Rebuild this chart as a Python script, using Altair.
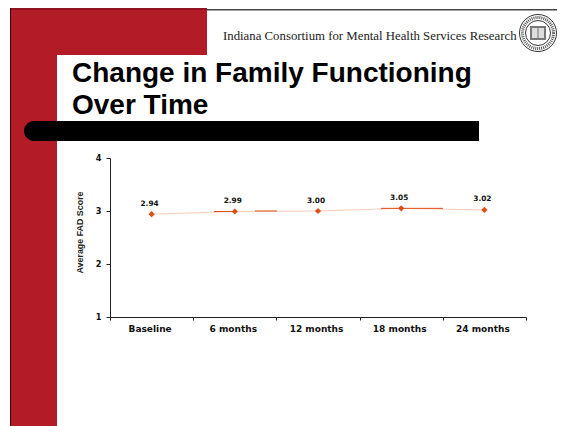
import altair as alt
import pandas as pd

categories = ["Baseline", "6 months", "12 months", "18 months", "24 months"]
scores = [2.94, 2.99, 3.00, 3.05, 3.02]
labels = ["2.94", "2.99", "3.00", "3.05", "3.02"]
y_ticks = [1, 2, 3, 4]
title_lines = ["Change in Family Functioning", "Over Time"]
header = "Indiana Consortium for Mental Health Services Research"
y_title = "Average FAD Score"

df = pd.DataFrame({"cat": categories, "score": scores, "label": labels})
blank = alt.Data(values=[{}])

# Page pixel to plot-area pixel
PLOT_X, PLOT_Y = 110, 158
def px(v):
    return v - PLOT_X
def py(v):
    return v - PLOT_Y

RED = "#b31b27"
DARK = "#3a0a0e"
LINE = "#f6cdb8"
ORANGE = "#dd4f14"


def box(x0, x1, y0, y1, color, **kw):
    return alt.Chart(blank).mark_rect(color=color, **kw).encode(
        x=alt.value(px(x0)), x2=alt.value(px(x1)),
        y=alt.value(py(y0)), y2=alt.value(py(y1)))


def txt(s, x, y, **kw):
    return alt.Chart(blank).mark_text(text=s, baseline="alphabetic", **kw).encode(
        x=alt.value(px(x)), y=alt.value(py(y)))


def ring(x, y, d, **kw):
    return alt.Chart(blank).mark_point(shape="circle", filled=False, size=d * d, opacity=1, **kw).encode(
        x=alt.value(px(x)), y=alt.value(py(y)))


deco = [
    box(10, 57, 8, 430, RED),
    box(10, 207, 8, 55, RED),
    box(57, 570, 55, 430, "white", cornerRadiusTopLeft=15),
    box(10, 11, 8, 430, DARK),
    box(10, 207, 8.5, 9.5, DARK, opacity=0.6),
    box(207, 570, 9, 10.5, "#444444"),
    box(24, 479, 121, 141, "black", cornerRadiusTopLeft=10, cornerRadiusBottomLeft=10),
    txt(title_lines[0], 72, 82, font="Liberation Sans", fontWeight="bold", fontSize=28, align="left", color="black"),
    txt(title_lines[1], 72, 114, font="Liberation Sans", fontWeight="bold", fontSize=28, align="left", color="black"),
    txt(header, 223, 39.5, font="Liberation Serif", fontSize=12.8, align="left", color="#222222"),
    ring(538, 33, 37, color="#333333", strokeWidth=1),
    ring(538, 33, 31, color="#555555", strokeWidth=3, strokeDash=[1, 1]),
    ring(538, 33, 25, color="#333333", strokeWidth=1),
    box(530, 546, 26, 40, "#777777"),
    box(532, 537.5, 28, 38, "#dddddd"),
    box(538.5, 544, 28, 38, "#dddddd"),
]

x = alt.X("cat:N", sort=categories, title=None,
          scale=alt.Scale(paddingInner=0, paddingOuter=0),
          axis=alt.Axis(labelAngle=0, labelFont="DejaVu Sans", labelFontWeight="bold",
                        labelFontSize=9, labelColor="#111111", labelPadding=4, labelOffset=-2,
                        tickBand="extent", tickColor="#222222", domainColor="#222222",
                        tickSize=3, grid=False, zindex=1))
y = alt.Y("score:Q", title=y_title,
          scale=alt.Scale(domain=[1, 4], nice=False),
          axis=alt.Axis(values=y_ticks, format="d", labelFont="DejaVu Sans",
                        labelFontWeight="bold", labelFontSize=8.2, labelColor="#111111",
                        labelPadding=5, tickColor="#222222", domainColor="#222222", tickSize=4,
                        grid=False, titleFont="Liberation Sans", titleFontSize=8.9,
                        titleFontWeight="bold", titleColor="#222222", titleX=-26, titleY=74, zindex=1))

line = alt.Chart(df).mark_line(color=LINE, strokeWidth=1).encode(x=x, y=y)
points = alt.Chart(df).mark_point(shape="diamond", filled=True, color=ORANGE, size=38, opacity=1).encode(x=x, y=y)
text = alt.Chart(df).mark_text(font="DejaVu Sans", fontWeight="bold", fontSize=7.4, color="#111111", dx=-2, dy=-10.5).encode(
    x=x, y=y, text="label:N")


def seg(x0, x1, value):
    return alt.Chart(blank).mark_rule(color=ORANGE, strokeWidth=1).encode(
        x=alt.value(px(x0)), x2=alt.value(px(x1)), y=alt.Y(datum=value, scale=alt.Scale(domain=[1, 4], nice=False)))


segments = [seg(214, 235, 2.99), seg(255, 277, 3.0), seg(381, 443, 3.05)]

chart = alt.layer(*deco, line, *segments, points, text).properties(
    width=416, height=159,
    autosize=alt.AutoSizeParams(type="none"),
    padding={"left": 102, "top": 150, "right": 31, "bottom": 109},
    background="white",
).configure_view(stroke=None)

chart.save("out.html", embed_options={"renderer": "svg", "actions": False})
